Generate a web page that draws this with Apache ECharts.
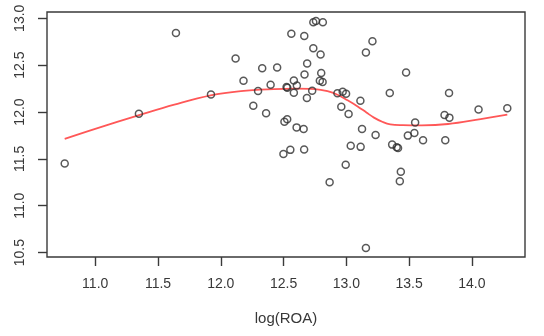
<!DOCTYPE html>
<html>
<head>
<meta charset="utf-8">
<script src="https://cdn.jsdelivr.net/npm/echarts@6/dist/echarts.min.js"></script>
<style>
  html, body { margin: 0; padding: 0; background: #fff; }
  #chart { width: 544px; height: 336px; }
</style>
</head>
<body>
<div id="chart"></div>
<script>
// Observed values: log(ROA) on x, response on y
const roaX = [
  10.757, 11.348, 11.643, 11.922, 12.118, 12.181, 12.297, 12.259, 12.330, 12.361,
  12.397, 12.449, 12.499, 12.507, 12.529, 12.524, 12.530, 12.554, 12.562, 12.582,
  12.582, 12.606, 12.604, 12.660, 12.664, 12.665, 12.667, 12.688, 12.686, 12.728,
  12.737, 12.737, 12.758, 12.813, 12.795, 12.800, 12.789, 12.811, 12.867, 12.929,
  12.971, 12.998, 12.960, 13.018, 13.035, 12.995, 13.112, 13.125, 13.114, 13.156,
  13.156, 13.208, 13.233, 13.346, 13.365, 13.401, 13.412, 13.434, 13.426, 13.476,
  13.490, 13.542, 13.548, 13.611, 13.782, 13.821, 13.818, 13.788, 14.053, 14.282
];
const valueY = [
  11.450, 11.982, 12.844, 12.188, 12.571, 12.333, 12.223, 12.067, 12.468, 11.986,
  12.291, 12.475, 11.553, 11.897, 11.922, 12.266, 12.258, 11.596, 12.835, 12.337,
  12.206, 12.284, 11.836, 11.819, 11.601, 12.810, 12.401, 12.518, 12.149, 12.227,
  12.681, 12.957, 12.971, 12.957, 12.613, 12.415, 12.333, 12.319, 11.251, 12.199,
  12.216, 12.195, 12.057, 11.979, 11.641, 11.436, 12.121, 11.819, 11.628, 12.635,
  10.550, 12.755, 11.755, 12.202, 11.652, 11.624, 11.617, 11.362, 11.262, 12.422,
  11.748, 11.777, 11.887, 11.699, 11.968, 11.940, 12.202, 11.699, 12.028, 12.039
];

// Smoothed trend (lowess) traced along x
const trendX = [10.757, 11.0, 11.35, 11.63, 11.92, 12.16, 12.42, 12.6, 12.75, 12.85, 12.93,
  13.01, 13.09, 13.16, 13.22, 13.29, 13.35, 13.45, 13.6, 13.81, 14.07, 14.282];
const trendY = [11.713, 11.82, 11.966, 12.078, 12.177, 12.223, 12.245, 12.25, 12.245, 12.222, 12.184,
  12.125, 12.06, 11.995, 11.94, 11.893, 11.868, 11.860, 11.858, 11.872, 11.925, 11.971];

// Axis ticks
const xTicks = [11.0, 11.5, 12.0, 12.5, 13.0, 13.5, 14.0];
const yTicks = [10.5, 11.0, 11.5, 12.0, 12.5, 13.0];
const xTitle = 'log(ROA)';

const chart = echarts.init(document.getElementById('chart'), null, { renderer: 'canvas' });

const axisInk = '#3a3a3a';
const labelFont = { fontFamily: 'Liberation Sans, Arial, sans-serif', fontSize: 14, color: '#383838' };

chart.setOption({
  animation: false,
  backgroundColor: '#fff',
  grid: {
    left: 47, right: 19, top: 12, bottom: 79,
    show: true, borderColor: axisInk, borderWidth: 1.4, backgroundColor: 'transparent'
  },
  xAxis: {
    type: 'value',
    min: 10.616, max: 14.423,
    name: xTitle,
    nameLocation: 'middle',
    nameGap: 54,
    nameTextStyle: { fontFamily: labelFont.fontFamily, fontSize: 15, color: '#383838' },
    axisLine: { show: false },
    splitLine: { show: false },
    axisTick: { show: true, customValues: xTicks, length: 9, inside: false, lineStyle: { color: axisInk, width: 1.4 } },
    axisLabel: Object.assign({ customValues: xTicks, margin: 20, formatter: v => v.toFixed(1) }, labelFont)
  },
  yAxis: {
    type: 'value',
    min: 10.453, max: 13.067,
    axisLine: { show: false },
    splitLine: { show: false },
    axisTick: { show: true, customValues: yTicks, length: 9, inside: false, lineStyle: { color: axisInk, width: 1.4 } },
    axisLabel: Object.assign({ customValues: yTicks, margin: 20, rotate: 90, formatter: v => v.toFixed(1) }, labelFont)
  },
  series: [
    {
      type: 'scatter',
      data: roaX.map((x, i) => [x, valueY[i]]),
      symbol: 'circle',
      symbolSize: 7,
      itemStyle: { color: 'rgba(0,0,0,0)', borderColor: '#303030', borderWidth: 1.5 },
      silent: true,
      z: 3
    },
    {
      type: 'line',
      data: trendX.map((x, i) => [x, trendY[i]]),
      smooth: 0.4,
      showSymbol: false,
      lineStyle: { color: '#ff5757', width: 1.8 },
      silent: true,
      z: 2
    }
  ]
});
</script>
</body>
</html>
